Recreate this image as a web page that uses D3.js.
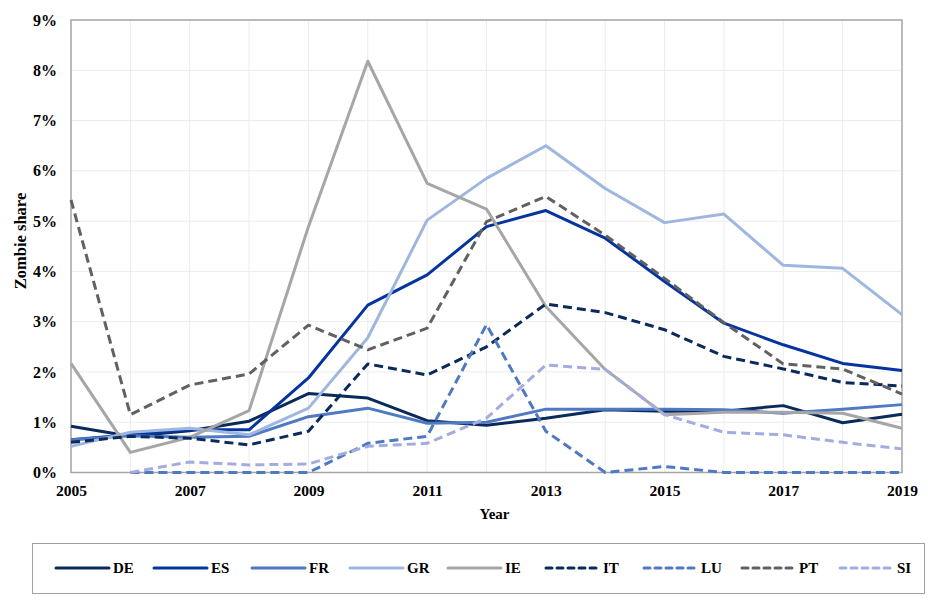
<!DOCTYPE html>
<html>
<head>
<meta charset="utf-8">
<script src="https://cdn.jsdelivr.net/npm/d3@7"></script>
<style>
  body { margin: 0; background: #fff; }
  svg text { font-family: "Liberation Serif", "Times New Roman", serif !important; font-weight: bold; fill: #000; }
</style>
</head>
<body>
<svg id="chart" width="930" height="600"></svg>
<script>
// years on the x axis
const years = d3.range(2005, 2020);
const yTicks = [0, 1, 2, 3, 4, 5, 6, 7, 8, 9];
const xLabels = [2005, 2007, 2009, 2011, 2013, 2015, 2017, 2019];

// zombie share in percent
const DE = [0.92, 0.72, 0.83, 1.02, 1.57, 1.48, 1.03, 0.94, 1.08, 1.25, 1.22, 1.22, 1.33, 0.99, 1.16];
const ES = [0.65, 0.75, 0.85, 0.85, 1.88, 3.33, 3.93, 4.89, 5.21, 4.66, 3.80, 2.97, 2.54, 2.17, 2.03];
const FR = [0.65, 0.73, 0.70, 0.72, 1.11, 1.28, 0.98, 1.00, 1.26, 1.26, 1.26, 1.25, 1.18, 1.26, 1.35];
const GR = [0.52, 0.80, 0.88, 0.75, 1.28, 2.68, 5.02, 5.85, 6.50, 5.65, 4.97, 5.14, 4.12, 4.06, 3.14];
const IE = [2.17, 0.40, 0.70, 1.23, 4.89, 8.18, 5.75, 5.24, 3.30, 2.05, 1.15, 1.20, 1.20, 1.18, 0.88];
const IT = [0.60, 0.72, 0.68, 0.55, 0.82, 2.16, 1.94, 2.50, 3.35, 3.18, 2.84, 2.31, 2.06, 1.79, 1.72];
const LU = [null, 0, 0, 0, 0, 0.58, 0.72, 2.94, 0.82, 0, 0.12, 0, 0, 0, 0];
const PT = [5.42, 1.15, 1.74, 1.96, 2.93, 2.44, 2.87, 4.99, 5.49, 4.72, 3.86, 2.98, 2.16, 2.06, 1.56];
const SI = [null, 0, 0.21, 0.15, 0.17, 0.52, 0.58, 1.08, 2.14, 2.05, 1.15, 0.80, 0.75, 0.60, 0.47];

const series = [
  { name: "DE", values: DE, color: "#0b2a5c", dash: null },
  { name: "ES", values: ES, color: "#0534a0", dash: null },
  { name: "FR", values: FR, color: "#4f79c2", dash: null },
  { name: "GR", values: GR, color: "#9fb7e0", dash: null },
  { name: "IE", values: IE, color: "#a6a6a6", dash: null },
  { name: "IT", values: IT, color: "#0b2a5c", dash: "9,5" },
  { name: "LU", values: LU, color: "#4f79c2", dash: "9,5" },
  { name: "PT", values: PT, color: "#616161", dash: "9,5" },
  { name: "SI", values: SI, color: "#a4acdf", dash: "9,5" },
];

const svg = d3.select("#chart");
const plotLeft = 71, plotRight = 902, plotTop = 20, plotBottom = 472.5;

const x = d3.scaleLinear().domain([2005, 2019]).range([plotLeft, plotRight]);
const y = d3.scaleLinear().domain([0, 9]).range([plotBottom, plotTop]);

// grid
svg.append("g")
  .attr("stroke", "#ececec")
  .attr("stroke-width", 1)
  .selectAll("line")
  .data(years)
  .join("line")
  .attr("x1", d => x(d)).attr("x2", d => x(d))
  .attr("y1", plotTop).attr("y2", plotBottom);

svg.append("g")
  .attr("stroke", "#ececec")
  .attr("stroke-width", 1)
  .selectAll("line")
  .data(yTicks)
  .join("line")
  .attr("x1", plotLeft).attr("x2", plotRight)
  .attr("y1", d => y(d)).attr("y2", d => y(d));

// frame
svg.append("rect")
  .attr("x", plotLeft).attr("y", plotTop)
  .attr("width", plotRight - plotLeft).attr("height", plotBottom - plotTop)
  .attr("fill", "none")
  .attr("stroke", "#a6a6a6")
  .attr("stroke-width", 1.5);

// axes (labels only)
const yAxis = svg.append("g")
  .attr("transform", `translate(${plotLeft},0)`)
  .call(d3.axisLeft(y).tickValues(yTicks).tickFormat(d => d + "%").tickSize(0).tickPadding(14));
yAxis.select(".domain").remove();
yAxis.selectAll("text").style("font-size", "16px");

const xAxis = svg.append("g")
  .attr("transform", `translate(0,${plotBottom})`)
  .call(d3.axisBottom(x).tickValues(xLabels).tickFormat(d3.format("d")).tickSize(0).tickPadding(12));
xAxis.select(".domain").remove();
xAxis.selectAll("text").style("font-size", "15.5px");

svg.append("text")
  .attr("x", (plotLeft + plotRight) / 2 + 8).attr("y", 519)
  .attr("text-anchor", "middle")
  .style("font-size", "15px")
  .text("Year");

svg.append("text")
  .attr("transform", "translate(26,241) rotate(-90)")
  .attr("text-anchor", "middle")
  .style("font-size", "16.5px")
  .text("Zombie share");

// lines
const line = d3.line()
  .defined(d => d[1] != null)
  .x(d => x(d[0]))
  .y(d => y(d[1]));

svg.append("g")
  .selectAll("path")
  .data(series)
  .join("path")
  .attr("fill", "none")
  .attr("stroke", d => d.color)
  .attr("stroke-width", 3)
  .attr("stroke-dasharray", d => d.dash)
  .attr("stroke-linejoin", "round")
  .attr("d", d => line(years.map((yr, i) => [yr, d.values[i]])));

// legend
svg.append("rect")
  .attr("x", 32.5).attr("y", 543.5)
  .attr("width", 892).attr("height", 50)
  .attr("fill", "none")
  .attr("stroke", "#a0a0a0")
  .attr("stroke-width", 1);

const legend = svg.append("g")
  .selectAll("g")
  .data(series)
  .join("g")
  .attr("transform", (d, i) => `translate(${56 + i * 98},568)`);

legend.append("line")
  .attr("x1", 0).attr("x2", 53)
  .attr("stroke", d => d.color)
  .attr("stroke-width", 3)
  .attr("stroke-linecap", "round")
  .attr("stroke-dasharray", d => d.dash ? "6,5" : null);

legend.append("text")
  .attr("x", 57).attr("dy", "0.35em")
  .style("font-size", "15px")
  .text(d => d.name);
</script>
</body>
</html>
